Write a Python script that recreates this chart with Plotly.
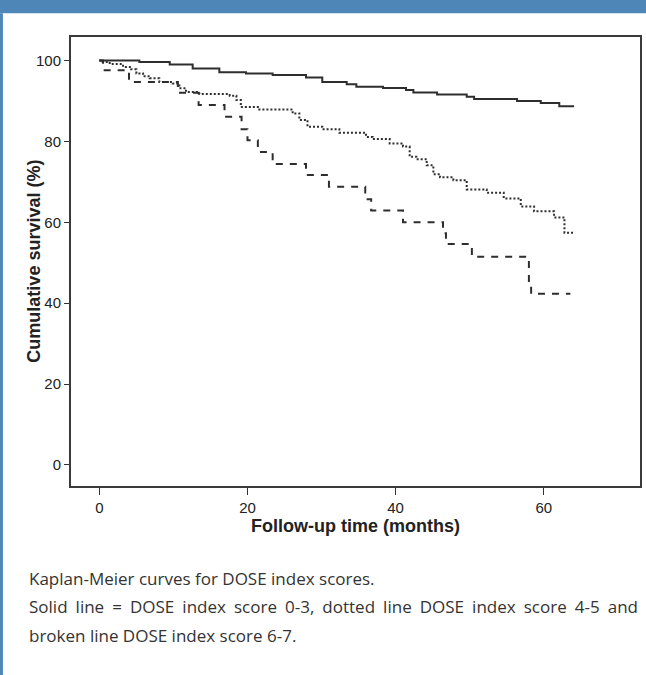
import plotly.graph_objects as go

# ---- data (months, cumulative survival %) ----
solid_t = [0, 5.4, 9.5, 12.6, 16.2, 19.8, 23.4, 27.9, 30.1, 33.4, 34.7, 38.3, 41.4,
           42.4, 45.6, 49.6, 50.6, 56.4, 59.6, 62.1, 64.1]
solid_s = [100, 99.6, 99.0, 98.0, 97.1, 96.8, 96.4, 95.8, 94.7, 94.1, 93.5, 93.2, 92.7,
           92.1, 91.6, 91.0, 90.5, 90.0, 89.5, 88.7, 88.7]

dotted_t = [0, 0.3, 1.4, 3.2, 4.3, 5.0, 5.9, 6.8, 8.1, 9.9, 10.8, 11.7, 13.5, 17.6, 18.5,
            19.1, 21.6, 26.1, 27.0, 28.1, 30.1, 32.4, 36.0, 36.9, 39.2, 41.0, 41.9, 42.8,
            44.2, 45.1, 46.0, 47.8, 49.6, 52.3, 54.6, 56.9, 58.7, 61.4, 62.8, 64.1]
dotted_s = [100, 99.6, 99.1, 98.4, 97.8, 96.8, 96.1, 95.6, 94.7, 94.3, 93.1, 92.2, 91.7, 91.3, 90.2,
            88.5, 87.9, 86.9, 85.3, 83.6, 83.0, 82.1, 81.1, 80.6, 79.5, 78.7, 76.2, 75.6,
            74.1, 71.9, 71.1, 70.4, 68.1, 67.3, 65.9, 63.9, 62.7, 61.2, 57.4, 57.4]

dashed_t = [0, 0.5, 4.0, 10.6, 13.4, 16.9, 19.2, 20.0, 21.4, 23.4, 27.9, 31.0, 35.9, 36.7,
            41.0, 46.4, 46.8, 50.3, 58.0, 58.3, 63.6]
dashed_s = [100, 97.6, 94.7, 92.0, 89.0, 86.1, 83.0, 80.3, 77.4, 74.4, 71.7, 68.8, 65.7, 62.9,
            60.0, 57.3, 54.6, 51.5, 45.5, 42.3, 42.3]

x_ticks = [0, 20, 40, 60]
y_ticks = [0, 20, 40, 60, 80, 100]

x_title = "Follow-up time (months)"
y_title = "Cumulative survival (%)"
caption = [
    "Kaplan-Meier curves for DOSE index scores.",
    "Solid line = DOSE index score 0-3, dotted line DOSE index score 4-5 and",
    "broken line DOSE index score 6-7.",
]

W, H = 646, 675
L, R, T, B = 71, 4, 37, 189
PW, PH = W - L - R, H - T - B


def px(x):
    return (x - L) / PW


def py(y):
    return (H - B - y) / PH


fig = go.Figure()
line_col = "#2e2e2e"
fig.add_trace(go.Scatter(x=dashed_t, y=dashed_s, mode="lines", line_shape="hv",
                         line=dict(color=line_col, width=2, dash="7px,7px"), showlegend=False))
fig.add_trace(go.Scatter(x=dotted_t, y=dotted_s, mode="lines", line_shape="hv",
                         line=dict(color=line_col, width=2, dash="2px,2px"), showlegend=False))
fig.add_trace(go.Scatter(x=solid_t, y=solid_s, mode="lines", line_shape="hv",
                         line=dict(color=line_col, width=2), showlegend=False))

axis_font = dict(family="Liberation Sans, Arial, sans-serif", size=15, color="#222")
common = dict(showgrid=False, zeroline=False, showline=True, mirror=True,
              linecolor="#3a3a3a", linewidth=2, ticks="outside", tickwidth=1.3,
              tickcolor="#333", tickfont=axis_font)
fig.update_xaxes(range=[-3.83, 73.0], tickvals=x_ticks, ticklen=7, **common)
fig.update_yaxes(range=[-5.2, 105.8], tickvals=y_ticks, ticklen=5, **common)

shapes = [
    dict(type="rect", xref="paper", yref="paper", x0=px(-5), x1=px(W + 5), y0=py(13.3), y1=py(-5),
         fillcolor="#4f86b8", line=dict(width=0), layer="below"),
    dict(type="rect", xref="paper", yref="paper", x0=px(-5), x1=px(2.7), y0=py(H + 5), y1=py(13.3),
         fillcolor="#4f86b8", line=dict(width=0), layer="below"),
]

title_font = dict(family="Liberation Sans, Arial, sans-serif", size=18, color="#222")
annotations = [
    dict(text="<b>%s</b>" % x_title, xref="paper", yref="paper", x=0.5, y=py(526),
         xanchor="center", yanchor="middle", showarrow=False, font=title_font),
    dict(text="<b>%s</b>" % y_title, xref="paper", yref="paper", x=px(33), y=0.5,
         xanchor="center", yanchor="middle", showarrow=False, font=title_font, textangle=-90),
]
for line, yy in zip(caption, [578, 606.5, 635]):
    annotations.append(dict(text=line, xref="paper", yref="paper", x=px(27), y=py(yy),
                            xanchor="left", yanchor="middle", showarrow=False,
                            font=dict(family="Open Sans, sans-serif", size=17, color="#333")))

fig.update_layout(width=W, height=H, margin=dict(l=L, r=R, t=T, b=B),
                  paper_bgcolor="white", plot_bgcolor="white",
                  shapes=shapes, annotations=annotations)

# remove the default page margin and justify the second caption line (27px .. 636px)
post = """
document.body.style.margin = '0';
document.body.style.overflow = 'hidden';
var gd = document.getElementById('{plot_id}');
gd.querySelectorAll('text.annotation-text').forEach(function (el) {
  if (el.textContent.indexOf('Solid line') === 0) {
    var bb0 = el.getBBox();
    var gaps = el.textContent.split(' ').length - 1;
    var ws = (609 - bb0.width) / gaps;
    if (ws > 0) {
      el.style.wordSpacing = ws + 'px';
      var bb1 = el.getBBox();
      var x = parseFloat(el.getAttribute('x') || '0');
      el.setAttribute('x', x + (bb0.x - bb1.x));
    }
  }
});
"""

fig.write_html("out.html", post_script=post, config={"displayModeBar": False})
